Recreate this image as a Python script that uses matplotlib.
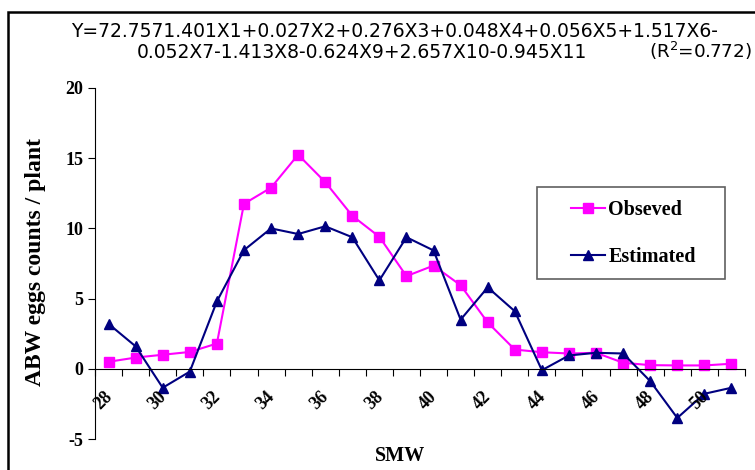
import matplotlib.pyplot as plt
from matplotlib.patches import Rectangle
from matplotlib.transforms import ScaledTranslation

smw = list(range(28, 52))
observed = [0.5, 0.8, 1.0, 1.2, 1.8, 11.75, 12.9, 15.25, 13.3, 10.9, 9.4, 6.6,
            7.35, 5.95, 3.3, 1.37, 1.18, 1.09, 1.14, 0.43, 0.26, 0.24, 0.24, 0.36]
estimated = [3.2, 1.6, -1.35, -0.2, 4.8, 8.45, 10.0, 9.6, 10.15, 9.37, 6.3, 9.37,
             8.43, 3.5, 5.8, 4.1, -0.1, 0.95, 1.14, 1.09, -0.88, -3.5, -1.78, -1.35]
label_weeks = list(range(28, 52, 2))

serif = ['Liberation Serif', 'DejaVu Serif']
sans = ['DejaVu Sans']
W, H = 755, 470

fig = plt.figure(figsize=(W / 100, H / 100), dpi=100)
ax = fig.add_axes([95 / W, 1 - 439 / H, 650 / W, (439 - 88) / H])

ax.plot(smw, observed, color='#FF00FF', marker='s', markersize=7, lw=1.5,
        label='Obseved')
ax.plot(smw, estimated, color='#000080', marker='^', markersize=7.5, lw=1.5,
        label='Estimated')

ax.set_xlim(27.5, 51.5)
ax.set_ylim(-5, 20)
ax.spines['top'].set_visible(False)
ax.spines['right'].set_visible(False)
ax.spines['bottom'].set_position(('data', 0))

# tick marks between categories; rotated labels under every second week
ax.set_xticks([w - 0.5 for w in smw] + [51.5])
ax.set_xticklabels([])
ax.tick_params(axis='x', direction='out', length=5)
offset = ScaledTranslation(7 / 100, -19.5 / 100, fig.dpi_scale_trans)
for w in label_weeks:
    ax.text(w, 0, str(w), rotation=45, ha='right', va='top',
            transform=ax.transData + offset, fontfamily=serif,
            fontweight='bold', fontsize=13)

ax.set_yticks([-5, 0, 5, 10, 15, 20])
ax.set_yticklabels(['-5', '0', '5', '10', '15', '20'], fontfamily=serif,
                   fontweight='bold', fontsize=13)
ax.tick_params(axis='y', direction='out', length=5)

fig.text(36 / W, 1 - 262 / H, 'ABW eggs counts / plant', rotation=90,
         ha='center', va='center', fontfamily=serif, fontweight='bold',
         fontsize=17)
fig.text(400 / W, 1 - 456 / H, 'SMW', ha='center', va='center',
         fontfamily=serif, fontweight='bold', fontsize=14.5)

fig.text(395 / W, 1 - 37 / H,
         'Y=72.7571.401X1+0.027X2+0.276X3+0.048X4+0.056X5+1.517X6-',
         ha='center', va='baseline', fontfamily=sans, fontsize=13.5)
fig.text(137 / W, 1 - 58 / H,
         '0.052X7-1.413X8-0.624X9+2.657X10-0.945X11',
         ha='left', va='baseline', fontfamily=sans, fontsize=13.5)
fig.text(649 / W, 1 - 58 / H, '(R$^2$=0.772)',
         ha='left', va='baseline', fontfamily=sans, fontsize=13.2)

# legend contents without frame, frame drawn separately
leg = ax.legend(loc='upper left', bbox_to_anchor=(571 / W, 1 - 200 / H),
                bbox_transform=fig.transFigure, frameon=False,
                prop={'family': serif, 'weight': 'bold', 'size': 14.5},
                handlelength=1.7, labelspacing=1.35, borderpad=0,
                handletextpad=0.15, borderaxespad=0)
fig.patches.append(Rectangle((537 / W, 1 - 279 / H), 188 / W, 92 / H,
                             transform=fig.transFigure, fill=False,
                             edgecolor='#606060', lw=1.2))

fig.patches.append(Rectangle((8 / W, -0.05), 1.0, 1 - 12 / H + 0.05,
                             transform=fig.transFigure, fill=False,
                             edgecolor='black', lw=1.8))

fig.savefig('out.png', dpi=100)
